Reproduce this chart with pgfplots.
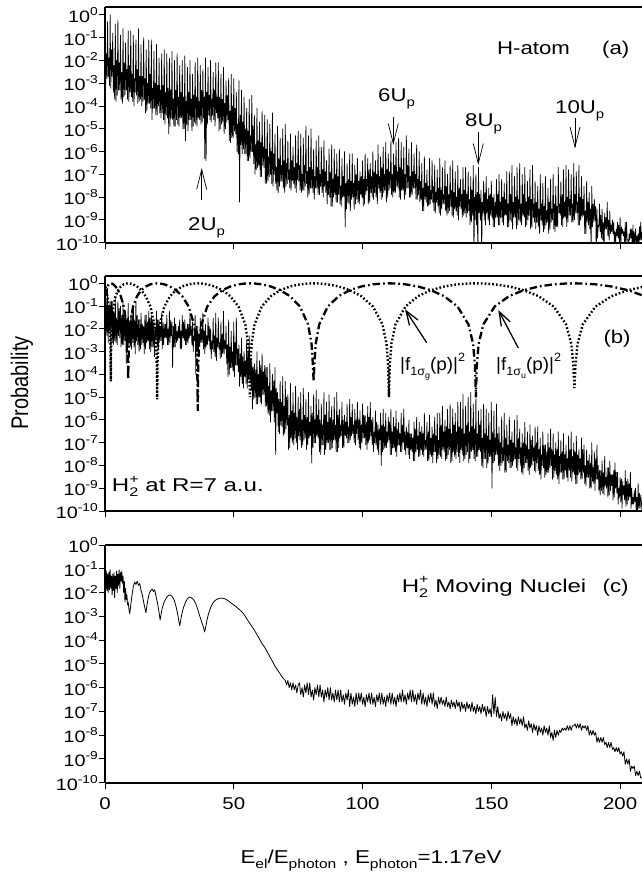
\documentclass[border=0pt]{standalone}
\usepackage{fontspec}
\setmainfont{Liberation Sans}
\usepackage{graphicx}
\usepackage{pgfplots}
\pgfplotsset{compat=1.18}
\usetikzlibrary{arrows.meta}

\newcommand\ft[1]{\fontsize{#1}{#1}\selectfont}
\newcommand\hs[1]{\scalebox{1.2}[1]{#1}}
\newcommand\hw[1]{\scalebox{1.3}[1]{#1}}
\newcommand\yl[1]{\hs{10\raisebox{0.42em}{\ft{11.5}#1}}}
\newcommand\mysub[1]{\raisebox{-0.28em}{\ft{12.5}#1}}
\newcommand\mysup[1]{\raisebox{0.45em}{\ft{12.5}#1}}
\newcommand\lsub[1]{\raisebox{-0.3em}{\ft{13}#1}}

\pgfplotsset{
  myPanel/.style={
    scale only axis, width=537pt,
    xmin=0, xmax=208.5, ymin=1e-10,
    axis x line=box, axis y line=left,
    every outer x axis line/.append style={-},
    every outer y axis line/.append style={-},
    axis line style={-, line width=1.6pt},
    xtick={0,50,100,150,200}, xtick pos=left, ytick pos=left,
    ytick={1e-10,1e-9,1e-8,1e-7,1e-6,1e-5,1e-4,1e-3,1e-2,1e-1,1},
    yticklabels={\yl{-10},\yl{-9},\yl{-8},\yl{-7},\yl{-6},\yl{-5},\yl{-4},\yl{-3},\yl{-2},\yl{-1},\yl{0}},
    yminorticks=false, xminorticks=false,
    tick align=outside, major tick length=6pt,
    major tick style={line width=1pt, black},
    yticklabel style={font=\ft{16.5}, inner sep=1pt},
    xticklabel style={font=\ft{17}, yshift=-5pt},
  },
  mySpec/.style={black, line width=0.7pt, line join=round},
  mySigG/.style={black, line width=2.4pt, line cap=butt, dash pattern=on 1.7pt off 2.1pt},
  mySigU/.style={black, line width=2.3pt, line cap=butt, dash pattern=on 7.5pt off 3pt on 1.7pt off 3pt},
}

\begin{document}
\begin{tikzpicture}
\useasboundingbox (0pt,0pt) rectangle (642pt,-873pt);

% ---------------- (a) H-atom
\begin{semilogyaxis}[myPanel, at={(105pt,-242.7pt)}, anchor=south west, height=236pt, ymax=2.3, xticklabels={}]
\addplot[mySpec] coordinates {
(0,1.3e-5)(0.1,1.3)(0.25,1e-3)(0.5,2e-2)(0.75,1.6e-3)
(1,5e-1)(1.25,2e-3)(1.5,1.3e-2)(1.75,8e-4)
(2,1)(2.25,6e-4)(2.5,3e-2)(2.75,2e-3)
(3,1.6e-1)(3.25,4e-4)(3.5,6e-3)(3.75,2e-4)
(4,4e-1)(4.25,1.6e-4)(4.5,1e-2)(4.75,3e-4)
(5,6e-1)(5.25,5e-4)(5.5,8e-3)(5.75,5e-4)
(6,1.3e-1)(6.25,2e-4)(6.5,3e-3)(6.75,1.3e-4)
(7,2.5e-1)(7.25,2.5e-4)(7.5,8e-3)(7.75,3e-4)
(8,6e-2)(8.25,5e-4)(8.5,4e-3)(8.75,2e-4)
(9,2e-1)(9.25,1.6e-4)(9.5,6e-3)(9.75,4e-4)
(10,2e-1)(10.25,2.5e-4)(10.5,2.5e-3)(10.75,1.6e-4)
(11,1.3e-1)(11.25,1e-4)(11.5,1.6e-3)(11.75,4e-4)
(12,8e-2)(12.25,3e-4)(12.5,4e-3)(12.75,1.3e-4)
(13,2.5e-1)(13.25,1.6e-4)(13.5,2e-3)(13.75,2e-4)
(14,5e-2)(14.25,1e-4)(14.5,2e-3)(14.75,1.6e-4)
(15,1e-1)(15.25,2e-4)(15.5,1.6e-3)(15.75,5e-5)
(16,3e-2)(16.25,6e-5)(16.5,1e-3)(16.75,1.3e-4)
(17,8e-2)(17.25,1.3e-4)(17.5,2.5e-3)(17.75,8e-5)
(18,8e-2)(18.25,2.5e-5)(18.5,6e-4)(18.75,8e-5)
(19,2.5e-2)(19.25,8e-5)(19.5,1e-3)(19.75,4e-5)
(20,5e-2)(20.25,4e-5)(20.5,8e-4)(20.75,1e-4)
(21,1.3e-2)(21.25,5e-5)(21.5,5e-4)(21.75,3e-5)
(22,2e-2)(22.25,5e-5)(22.5,8e-4)(22.75,2.5e-5)
(23,3e-2)(23.25,1.6e-5)(23.5,4e-4)(23.75,4e-5)
(24,2e-2)(24.25,3e-5)(24.5,6e-4)(24.75,6e-6)
(25,1.3e-2)(25.25,1.3e-5)(25.5,5e-4)(25.75,3e-5)
(26,2.5e-2)(26.25,2.5e-5)(26.5,2e-4)(26.75,1.3e-5)
(27,1e-2)(27.25,1.3e-5)(27.5,5e-4)(27.75,2.5e-5)
(28,2e-2)(28.25,1.6e-5)(28.5,2.5e-4)(28.75,1.3e-5)
(29,6e-3)(29.25,3e-5)(29.5,4e-4)(29.75,3e-5)
(30,1e-2)(30.25,1e-5)(30.5,2.5e-4)(30.75,1e-5)
(31,1.6e-2)(31.25,3e-6)(31.5,1.6e-4)(31.75,1.6e-5)
(32,5e-3)(32.25,8e-6)(32.5,4e-4)(32.75,2.5e-5)
(33,1e-2)(33.25,2.5e-5)(33.5,2e-4)(33.75,8e-6)
(34,2.5e-3)(34.25,1.3e-5)(34.5,3e-4)(34.75,2e-5)
(35,8e-3)(35.25,1.6e-5)(35.5,2.5e-4)(35.75,1.3e-5)
(36,1.3e-2)(36.25,3e-5)(36.5,1.6e-4)(36.75,2.5e-5)
(37,6e-3)(37.25,1.6e-5)(37.5,5e-4)(37.75,2e-5)
(38,4e-3)(38.25,3e-5)(38.5,2.5e-4)(38.75,5e-7)
(39,1.3e-2)(39.25,4e-7)(39.5,4e-4)(39.75,1.6e-5)
(40,5e-3)(40.25,4e-5)(40.5,3e-4)(40.75,2.5e-5)
(41,1e-2)(41.25,2e-5)(41.5,2e-4)(41.75,4e-5)
(42,3e-3)(42.25,2.5e-5)(42.5,5e-4)(42.75,1.3e-5)
(43,8e-3)(43.25,5e-5)(43.5,2.5e-4)(43.75,3e-5)
(44,8e-3)(44.25,8e-6)(44.5,2.5e-4)(44.75,1e-5)
(45,2.5e-3)(45.25,1.6e-5)(45.5,2e-4)(45.75,2e-5)
(46,5e-3)(46.25,6e-6)(46.5,1.3e-4)(46.75,1e-5)
(47,1.3e-3)(47.25,2e-5)(47.5,3e-4)(47.75,2.5e-5)
(48,1.6e-3)(48.25,3e-6)(48.5,6e-5)(48.75,2.5e-6)
(49,2.5e-3)(49.25,4e-6)(49.5,1e-4)(49.75,4e-6)
(50,1.6e-3)(50.25,8e-6)(50.5,8e-5)(50.75,6e-6)
(51,4e-4)(51.25,1e-6)(51.5,1.6e-5)(51.75,8e-7)
(52,1.3e-3)(52.25,6e-9)(52.5,4e-5)(52.75,2e-6)
(53,5e-4)(53.25,8e-7)(53.5,2e-5)(53.75,1.3e-6)
(54,2.5e-4)(54.25,8e-7)(54.5,1e-5)(54.75,8e-7)
(55,8e-5)(55.25,4e-7)(55.5,8e-6)(55.75,4e-7)
(56,2e-4)(56.25,5e-7)(56.5,5e-6)(56.75,1e-6)
(57,3e-4)(57.25,1e-6)(57.5,1.3e-5)(57.75,3e-7)
(58,4e-5)(58.25,1e-7)(58.5,2e-6)(58.75,1.6e-7)
(59,8e-5)(59.25,2e-7)(59.5,3e-6)(59.75,2.5e-7)
(60,2e-5)(60.25,8e-8)(60.5,2.5e-6)(60.75,8e-8)
(61,6e-5)(61.25,2.5e-7)(61.5,1.6e-6)(61.75,2e-7)
(62,4e-5)(62.25,4e-8)(62.5,1.3e-6)(62.75,4e-8)
(63,2.5e-5)(63.25,5e-8)(63.5,6e-7)(63.75,8e-8)
(64,1.6e-5)(64.25,1e-7)(64.5,1e-6)(64.75,4e-8)
(65,5e-5)(65.25,3e-8)(65.5,8e-7)(65.75,1e-7)
(66,6e-6)(66.25,4e-8)(66.5,2e-7)(66.75,2e-8)
(67,1.3e-5)(67.25,1.6e-8)(67.5,5e-7)(67.75,3e-8)
(68,4e-6)(68.25,5e-8)(68.5,2.5e-7)(68.75,5e-8)
(69,1e-5)(69.25,2.5e-8)(69.5,4e-7)(69.75,1.6e-8)
(70,1.6e-5)(70.25,3e-8)(70.5,3e-7)(70.75,4e-8)
(71,3e-6)(71.25,6e-8)(71.5,1.6e-7)(71.75,2.5e-8)
(72,6e-6)(72.25,2e-8)(72.5,4e-7)(72.75,5e-8)
(73,1.6e-6)(73.25,4e-8)(73.5,2e-7)(73.75,2.5e-8)
(74,5e-6)(74.25,1.6e-8)(74.5,3e-7)(74.75,6e-8)
(75,8e-6)(75.25,5e-8)(75.5,2.5e-7)(75.75,2e-8)
(76,6e-6)(76.25,1.6e-8)(76.5,1e-7)(76.75,2e-8)
(77,4e-6)(77.25,2e-8)(77.5,2.5e-7)(77.75,3e-8)
(78,1.3e-5)(78.25,4e-8)(78.5,1.3e-7)(78.75,1e-8)
(79,5e-6)(79.25,1.3e-8)(79.5,2e-7)(79.75,2.5e-8)
(80,1e-5)(80.25,2.5e-8)(80.5,1.6e-7)(80.75,1.6e-8)
(81,1.3e-6)(81.25,8e-9)(81.5,8e-8)(81.75,2.5e-8)
(82,3e-6)(82.25,2.5e-8)(82.5,2e-7)(82.75,1.3e-8)
(83,5e-6)(83.25,1.3e-8)(83.5,1e-7)(83.75,3e-8)
(84,1.6e-6)(84.25,1.6e-8)(84.5,1.6e-7)(84.75,1e-8)
(85,3e-6)(85.25,3e-8)(85.5,1.3e-7)(85.75,1.6e-8)
(86,4e-7)(86.25,5e-9)(86.5,5e-8)(86.75,1.3e-8)
(87,1.3e-6)(87.25,1e-8)(87.5,1.3e-7)(87.75,4e-9)
(88,2e-6)(88.25,4e-9)(88.5,6e-8)(88.75,1e-8)
(89,1.3e-6)(89.25,1.3e-8)(89.5,1e-7)(89.75,6e-9)
(90,8e-7)(90.25,6e-9)(90.5,8e-8)(90.75,1.3e-8)
(91,1.3e-6)(91.25,5e-9)(91.5,3e-8)(91.75,4e-9)
(92,5e-7)(92.25,1e-8)(92.5,8e-8)(92.75,1e-8)
(93,1e-6)(93.25,5e-10)(93.5,4e-8)(93.75,3e-9)
(94,3e-7)(94.25,6e-9)(94.5,6e-8)(94.75,5e-9)
(95,8e-7)(95.25,2.5e-9)(95.5,5e-8)(95.75,8e-9)
(96,8e-7)(96.25,1e-8)(96.5,4e-8)(96.75,3e-9)
(97,2.5e-7)(97.25,5e-9)(97.5,1e-7)(97.75,8e-9)
(98,5e-7)(98.25,6e-9)(98.5,5e-8)(98.75,5e-9)
(99,1.3e-7)(99.25,1.3e-8)(99.5,8e-8)(99.75,1e-8)
(100,4e-7)(100.25,4e-9)(100.5,6e-8)(100.75,5e-9)
(101,8e-7)(101.25,1.3e-8)(101.5,6e-8)(101.75,2e-8)
(102,5e-7)(102.25,5e-9)(102.5,1.6e-7)(102.75,6e-9)
(103,3e-7)(103.25,1.6e-8)(103.5,8e-8)(103.75,1e-8)
(104,1e-6)(104.25,8e-9)(104.5,1.3e-7)(104.75,1.6e-8)
(105,4e-7)(105.25,1e-8)(105.5,1e-7)(105.75,5e-9)
(106,2e-6)(106.25,2.5e-8)(106.5,8e-8)(106.75,1.6e-8)
(107,6e-7)(107.25,8e-9)(107.5,2e-7)(107.75,1e-8)
(108,1.6e-6)(108.25,1.6e-8)(108.5,1e-7)(108.75,2e-8)
(109,2.5e-6)(109.25,6e-9)(109.5,1.6e-7)(109.75,1e-8)
(110,8e-7)(110.25,2e-8)(110.5,1.3e-7)(110.75,2.5e-8)
(111,3e-6)(111.25,1.3e-8)(111.5,1e-7)(111.75,1e-8)
(112,8e-7)(112.25,1.6e-8)(112.5,2.5e-7)(112.75,1.6e-8)
(113,2.5e-6)(113.25,3e-8)(113.5,1.3e-7)(113.75,2.5e-8)
(114,4e-6)(114.25,1e-8)(114.5,2e-7)(114.75,8e-9)
(115,2.5e-6)(115.25,2e-8)(115.5,1.6e-7)(115.75,2e-8)
(116,1.6e-6)(116.25,8e-9)(116.5,1e-7)(116.75,1.3e-8)
(117,5e-6)(117.25,2.5e-8)(117.5,2.5e-7)(117.75,2.5e-8)
(118,1.3e-6)(118.25,1e-8)(118.5,8e-8)(118.75,1e-8)
(119,2.5e-6)(119.25,1.3e-8)(119.5,1.3e-7)(119.75,2.5e-8)
(120,8e-7)(120.25,2.5e-8)(120.5,1e-7)(120.75,8e-9)
(121,2e-6)(121.25,8e-9)(121.5,6e-8)(121.75,1.3e-8)
(122,1e-6)(122.25,6e-9)(122.5,5e-8)(122.75,8e-9)
(123,3e-7)(123.25,2.5e-9)(123.5,2.5e-8)(123.75,2.5e-9)
(124,6e-7)(124.25,8e-9)(124.5,4e-8)(124.75,6e-9)
(125,1.6e-7)(125.25,4e-9)(125.5,3e-8)(125.75,4e-9)
(126,5e-7)(126.25,5e-9)(126.5,2e-8)(126.75,8e-9)
(127,4e-7)(127.25,6e-9)(127.5,3e-8)(127.75,2.5e-9)
(128,2.5e-7)(128.25,2e-9)(128.5,1.6e-8)(128.75,6e-9)
(129,1.6e-7)(129.25,4e-9)(129.5,2.5e-8)(129.75,2e-9)
(130,5e-7)(130.25,1.6e-9)(130.5,2e-8)(130.75,3e-9)
(131,2e-7)(131.25,5e-9)(131.5,1.3e-8)(131.75,5e-9)
(132,4e-7)(132.25,2.5e-9)(132.5,3e-8)(132.75,1.6e-9)
(133,1e-7)(133.25,2e-9)(133.5,1.3e-8)(133.75,2.5e-9)
(134,2.5e-7)(134.25,4e-9)(134.5,2e-8)(134.75,1.6e-9)
(135,4e-7)(135.25,1.3e-9)(135.5,1.6e-8)(135.75,3e-9)
(136,1.3e-7)(136.25,2.5e-9)(136.5,1e-8)(136.75,1.6e-9)
(137,2.5e-7)(137.25,1e-9)(137.5,2.5e-8)(137.75,4e-9)
(138,6e-8)(138.25,3e-9)(138.5,1.3e-8)(138.75,1.3e-9)
(139,2e-7)(139.25,1.6e-9)(139.5,2e-8)(139.75,2e-9)
(140,2e-7)(140.25,1.3e-9)(140.5,1.3e-8)(140.75,2e-9)
(141,1.3e-7)(141.25,2.5e-9)(141.5,8e-9)(141.75,6e-10)
(142,8e-8)(142.25,8e-10)(142.5,2e-8)(142.75,1.6e-9)
(143,2.5e-7)(143.25,3e-11)(143.5,1e-8)(143.75,1e-9)
(144,1e-7)(144.25,6e-10)(144.5,1.6e-8)(144.75,3e-11)
(145,2e-7)(145.25,2e-9)(145.5,1.3e-8)(145.75,1e-9)
(146,2e-8)(146.25,3e-11)(146.5,6e-9)(146.75,2e-9)
(147,5e-8)(147.25,1e-9)(147.5,1.6e-8)(147.75,6e-10)
(148,8e-8)(148.25,2e-9)(148.5,8e-9)(148.75,1e-9)
(149,2.5e-8)(149.25,6e-10)(149.5,1.3e-8)(149.75,1.6e-9)
(150,5e-8)(150.25,1.3e-9)(150.5,1e-8)(150.75,5e-10)
(151,1.3e-8)(151.25,5e-10)(151.5,6e-9)(151.75,1.3e-9)
(152,6e-8)(152.25,1.3e-9)(152.5,1.3e-8)(152.75,6e-10)
(153,1e-7)(153.25,6e-10)(153.5,6e-9)(153.75,1.3e-9)
(154,6e-8)(154.25,8e-10)(154.5,1e-8)(154.75,6e-10)
(155,4e-8)(155.25,1.6e-9)(155.5,8e-9)(155.75,1.6e-9)
(156,1.3e-7)(156.25,5e-10)(156.5,5e-9)(156.75,5e-10)
(157,1.3e-7)(157.25,1e-9)(157.5,1.3e-8)(157.75,8e-10)
(158,2.5e-7)(158.25,4e-10)(158.5,6e-9)(158.75,1.3e-9)
(159,8e-8)(159.25,1.3e-9)(159.5,1e-8)(159.75,4e-10)
(160,2e-7)(160.25,6e-10)(160.5,8e-9)(160.75,1e-9)
(161,3e-7)(161.25,8e-10)(161.5,5e-9)(161.75,6e-10)
(162,1e-7)(162.25,1.6e-9)(162.5,1.3e-8)(162.75,1.3e-9)
(163,2e-7)(163.25,5e-10)(163.5,6e-9)(163.75,6e-10)
(164,5e-8)(164.25,1e-9)(164.5,1e-8)(164.75,1.6e-9)
(165,1.6e-7)(165.25,4e-10)(165.5,8e-9)(165.75,5e-10)
(166,2.5e-7)(166.25,1.3e-9)(166.5,5e-9)(166.75,8e-10)
(167,5e-8)(167.25,4e-10)(167.5,6e-9)(167.75,8e-10)
(168,3e-8)(168.25,5e-10)(168.5,3e-9)(168.75,2.5e-10)
(169,1e-7)(169.25,1e-9)(169.5,5e-9)(169.75,6e-10)
(170,4e-8)(170.25,3e-10)(170.5,4e-9)(170.75,4e-10)
(171,8e-8)(171.25,6e-10)(171.5,2.5e-9)(171.75,8e-10)
(172,2.5e-8)(172.25,2.5e-10)(172.5,6e-9)(172.75,4e-10)
(173,6e-8)(173.25,8e-10)(173.5,3e-9)(173.75,1e-9)
(174,1e-7)(174.25,4e-10)(174.5,5e-9)(174.75,3e-10)
(175,3e-8)(175.25,5e-10)(175.5,4e-9)(175.75,5e-10)
(176,2e-7)(176.25,2e-9)(176.5,5e-9)(176.75,1.6e-9)
(177,5e-8)(177.25,6e-10)(177.5,1.3e-8)(177.75,5e-10)
(178,1.6e-7)(178.25,1.3e-9)(178.5,6e-9)(178.75,1.3e-9)
(179,2.5e-7)(179.25,5e-10)(179.5,1e-8)(179.75,8e-10)
(180,1.6e-7)(180.25,1.6e-9)(180.5,8e-9)(180.75,1.6e-9)
(181,1e-7)(181.25,8e-10)(181.5,5e-9)(181.75,8e-10)
(182,3e-7)(182.25,1e-9)(182.5,1.3e-8)(182.75,2e-9)
(183,1.3e-7)(183.25,2e-9)(183.5,6e-9)(183.75,6e-10)
(184,2.5e-7)(184.25,6e-10)(184.5,1e-8)(184.75,1e-9)
(185,8e-8)(185.25,1.3e-9)(185.5,8e-9)(185.75,1.6e-9)
(186,3e-8)(186.25,2.5e-10)(186.5,2.5e-9)(186.75,2.5e-10)
(187,5e-8)(187.25,8e-10)(187.5,6e-9)(187.75,6e-10)
(188,1.6e-8)(188.25,4e-10)(188.5,3e-9)(188.75,3e-11)
(189,3e-8)(189.25,5e-10)(189.5,5e-9)(189.75,8e-10)
(190,8e-9)(190.25,1e-9)(190.5,4e-9)(190.75,3e-11)
(191,3e-9)(191.25,1.6e-10)(191.5,6e-10)(191.75,5e-10)
(192,5e-9)(192.25,3e-10)(192.5,1.6e-9)(192.75,1.6e-10)
(193,3e-9)(193.25,1.3e-10)(193.5,8e-10)(193.75,3e-11)
(194,2e-9)(194.25,4e-10)(194.5,1.3e-9)(194.75,4e-10)
(195,6e-9)(195.25,2e-10)(195.5,1e-9)(195.75,1.3e-10)
(196,2.5e-9)(196.25,2.5e-10)(196.5,6e-10)(196.75,3e-10)
(197,1e-9)(197.25,2.5e-10)(197.5,8e-10)(197.75,1e-10)
(198,3e-10)(198.25,8e-11)(198.5,4e-10)(198.75,2e-10)
(199,8e-10)(199.25,1.6e-10)(199.5,6e-10)(199.75,1e-10)
(200,1.3e-9)(200.25,6e-11)(200.5,5e-10)(200.75,2.5e-10)
(201,4e-10)(201.25,2e-10)(201.5,3e-10)(201.75,8e-11)
(202,8e-10)(202.25,1e-10)(202.5,8e-10)(202.75,1.3e-10)
(203,1.3e-10)(203.25,8e-11)(203.5,2.5e-10)(203.75,1.3e-10)
(204,4e-10)(204.25,1.6e-10)(204.5,4e-10)(204.75,4e-11)
(205,6e-10)(205.25,5e-11)(205.5,3e-10)(205.75,1e-10)
(206,4e-10)(206.25,1e-10)(206.5,2e-10)(206.75,6e-11)
(207,2.5e-10)(207.25,4e-11)(207.5,5e-10)(207.75,1.3e-10)
(208,8e-10)(208.25,1.3e-10)(208.5,3e-10)
};
\end{semilogyaxis}

% ---------------- (b) H2+ at R=7
\begin{semilogyaxis}[myPanel, at={(105pt,-511pt)}, anchor=south west, height=235pt, ymax=2.1, xticklabels={}]
\addplot[mySpec] coordinates {
(0,2e-2)(0.1,1)(0.25,6e-3)(0.5,2e-1)(0.75,5e-3)
(1,6e-1)(1.25,2.5e-3)(1.5,1e-1)(1.75,8e-3)
(2,1.6e-1)(2.25,8e-3)(2.5,1.6e-1)(2.75,2.5e-3)
(3,1.6e-1)(3.25,2e-3)(3.5,5e-2)(3.75,3e-3)
(4,2.5e-1)(4.25,2.5e-3)(4.5,3e-2)(4.75,2e-3)
(5,1.6e-1)(5.25,5e-3)(5.5,8e-2)(5.75,4e-3)
(6,1e-1)(6.25,1.6e-3)(6.5,4e-2)(6.75,2e-3)
(7,1.6e-1)(7.25,2e-3)(7.5,4e-2)(7.75,3e-3)
(8,6e-2)(8.25,3e-4)(8.5,3e-2)(8.75,1e-3)
(9,1.3e-1)(9.25,2.5e-3)(9.5,2e-2)(9.75,1.6e-3)
(10,4e-2)(10.25,1.3e-3)(10.5,5e-2)(10.75,2.5e-3)
(11,1e-1)(11.25,1.6e-3)(11.5,2.5e-2)(11.75,8e-4)
(12,1.6e-1)(12.25,3e-3)(12.5,4e-2)(12.75,2e-3)
(13,2.5e-2)(13.25,1e-3)(13.5,2.5e-2)(13.75,1.3e-3)
(14,5e-2)(14.25,2e-3)(14.5,1.6e-2)(14.75,2.5e-3)
(15,1.3e-2)(15.25,8e-4)(15.5,4e-2)(15.75,1.3e-3)
(16,4e-2)(16.25,2.5e-3)(16.5,2e-2)(16.75,3e-3)
(17,6e-2)(17.25,1.3e-3)(17.5,3e-2)(17.75,1e-3)
(18,4e-2)(18.25,1.6e-3)(18.5,2.5e-2)(18.75,1.6e-3)
(19,2e-2)(19.25,6e-4)(19.5,1e-2)(19.75,4e-3)
(20,6e-2)(20.25,1.6e-3)(20.5,2.5e-2)(20.75,1.3e-3)
(21,2.5e-2)(21.25,3e-3)(21.5,1.3e-2)(21.75,3e-3)
(22,5e-2)(22.25,1.3e-3)(22.5,2e-2)(22.75,2e-3)
(23,1.6e-2)(23.25,4e-3)(23.5,1.6e-2)(23.75,4e-3)
(24,4e-2)(24.25,2e-3)(24.5,1e-2)(24.75,2e-3)
(25,6e-2)(25.25,2.5e-3)(25.5,2.5e-2)(25.75,5e-3)
(26,2e-2)(26.25,2e-4)(26.5,1.3e-2)(26.75,1.6e-3)
(27,3e-2)(27.25,1.6e-3)(27.5,1.6e-2)(27.75,2.5e-3)
(28,8e-3)(28.25,3e-3)(28.5,1.3e-2)(28.75,4e-3)
(29,2.5e-2)(29.25,1.3e-3)(29.5,8e-3)(29.75,1.3e-3)
(30,4e-2)(30.25,4e-3)(30.5,2e-2)(30.75,3e-3)
(31,2.5e-2)(31.25,2e-3)(31.5,1e-2)(31.75,2e-3)
(32,1.6e-2)(32.25,2.5e-3)(32.5,1.6e-2)(32.75,4e-3)
(33,5e-2)(33.25,5e-3)(33.5,1.3e-2)(33.75,2e-3)
(34,2e-2)(34.25,1e-3)(34.5,5e-3)(34.75,3e-3)
(35,4e-2)(35.25,1e-4)(35.5,1.3e-2)(35.75,1e-3)
(36,1.3e-2)(36.25,8e-4)(36.5,6e-3)(36.75,1.6e-3)
(37,3e-2)(37.25,2.5e-3)(37.5,1e-2)(37.75,2.5e-3)
(38,5e-2)(38.25,1.3e-3)(38.5,8e-3)(38.75,8e-4)
(39,1.6e-2)(39.25,1.6e-3)(39.5,5e-3)(39.75,2e-3)
(40,3e-2)(40.25,3e-3)(40.5,1.3e-2)(40.75,1.3e-3)
(41,1e-2)(41.25,5e-4)(41.5,3e-3)(41.75,1.3e-3)
(42,3e-2)(42.25,1e-3)(42.5,5e-3)(42.75,6e-4)
(43,5e-2)(43.25,4e-4)(43.5,4e-3)(43.75,1.6e-3)
(44,3e-2)(44.25,1.3e-3)(44.5,2.5e-3)(44.75,5e-4)
(45,2e-2)(45.25,6e-4)(45.5,6e-3)(45.75,8e-4)
(46,6e-2)(46.25,8e-4)(46.5,3e-3)(46.75,1.3e-3)
(47,1.3e-2)(47.25,3e-4)(47.5,2e-3)(47.75,8e-5)
(48,2.5e-2)(48.25,1e-4)(48.5,1.6e-3)(48.75,2e-4)
(49,8e-3)(49.25,2e-4)(49.5,1e-3)(49.75,1.3e-4)
(50,2e-2)(50.25,8e-5)(50.5,2.5e-3)(50.75,2.5e-4)
(51,3e-2)(51.25,2.5e-4)(51.5,1.3e-3)(51.75,1.3e-4)
(52,2e-3)(52.25,3e-5)(52.5,8e-4)(52.75,8e-5)
(53,4e-3)(53.25,4e-5)(53.5,6e-4)(53.75,2.5e-5)
(54,1e-3)(54.25,8e-5)(54.5,4e-4)(54.75,4e-5)
(55,3e-3)(55.25,2.5e-5)(55.5,1e-3)(55.75,6e-5)
(56,5e-3)(56.25,5e-5)(56.5,5e-4)(56.75,2e-5)
(57,5e-4)(57.25,3e-6)(57.5,2e-4)(57.75,8e-6)
(58,3e-4)(58.25,1e-5)(58.5,1.6e-4)(58.75,5e-6)
(59,1e-3)(59.25,5e-6)(59.5,1e-4)(59.75,1e-5)
(60,4e-4)(60.25,6e-6)(60.5,2.5e-4)(60.75,5e-6)
(61,8e-4)(61.25,1.3e-5)(61.5,1.3e-4)(61.75,1.3e-5)
(62,2.5e-4)(62.25,4e-6)(62.5,2e-4)(62.75,4e-6)
(63,2e-4)(63.25,2e-6)(63.5,3e-5)(63.75,1.6e-6)
(64,3e-4)(64.25,8e-7)(64.5,2e-5)(64.75,2.5e-6)
(65,1e-4)(65.25,2.5e-6)(65.5,5e-5)(65.75,8e-7)
(66,2e-4)(66.25,3e-8)(66.5,2.5e-5)(66.75,2e-6)
(67,1.6e-5)(67.25,3e-7)(67.5,8e-6)(67.75,2.5e-7)
(68,5e-5)(68.25,6e-7)(68.5,6e-6)(68.75,5e-7)
(69,8e-5)(69.25,2e-7)(69.5,4e-6)(69.75,2.5e-7)
(70,5e-5)(70.25,4e-7)(70.5,1e-5)(70.75,6e-7)
(71,1.3e-5)(71.25,5e-8)(71.5,1.6e-6)(71.75,6e-8)
(72,4e-5)(72.25,1.6e-7)(72.5,2.5e-6)(72.75,1e-7)
(73,1.6e-5)(73.25,8e-8)(73.5,2e-6)(73.75,1.6e-7)
(74,3e-5)(74.25,1e-7)(74.5,1.3e-6)(74.75,5e-8)
(75,1e-5)(75.25,2e-7)(75.5,3e-6)(75.75,1.3e-7)
(76,1.6e-5)(76.25,6e-8)(76.5,1e-6)(76.75,8e-8)
(77,2.5e-5)(77.25,1.3e-7)(77.5,1.6e-6)(77.75,1.6e-7)
(78,8e-6)(78.25,5e-8)(78.5,1.3e-6)(78.75,8e-8)
(79,1.6e-5)(79.25,1.6e-7)(79.5,8e-7)(79.75,2e-7)
(80,4e-6)(80.25,1.3e-8)(80.5,2e-6)(80.75,6e-8)
(81,1.3e-5)(81.25,1e-7)(81.5,1e-6)(81.75,1e-7)
(82,2e-5)(82.25,2e-7)(82.5,1.6e-6)(82.75,1.6e-7)
(83,8e-6)(83.25,4e-8)(83.5,1e-6)(83.75,3e-8)
(84,5e-6)(84.25,8e-8)(84.5,6e-7)(84.75,8e-8)
(85,1.6e-5)(85.25,3e-8)(85.5,1.6e-6)(85.75,5e-8)
(86,6e-6)(86.25,1e-7)(86.5,8e-7)(86.75,1e-7)
(87,1.3e-5)(87.25,5e-8)(87.5,1.3e-6)(87.75,5e-8)
(88,4e-6)(88.25,6e-8)(88.5,1e-6)(88.75,1.3e-7)
(89,1e-5)(89.25,1.3e-7)(89.5,6e-7)(89.75,4e-8)
(90,1.6e-5)(90.25,4e-8)(90.5,1.6e-6)(90.75,6e-8)
(91,3e-6)(91.25,1.6e-7)(91.5,6e-7)(91.75,2e-7)
(92,6e-6)(92.25,6e-8)(92.5,1e-6)(92.75,6e-8)
(93,1.6e-6)(93.25,2e-7)(93.5,8e-7)(93.75,1.6e-7)
(94,5e-6)(94.25,1e-7)(94.5,5e-7)(94.75,1e-7)
(95,8e-6)(95.25,1.3e-7)(95.5,1.3e-6)(95.75,2e-7)
(96,5e-6)(96.25,2.5e-7)(96.5,6e-7)(96.75,1e-7)
(97,3e-6)(97.25,8e-8)(97.5,1e-6)(97.75,2.5e-7)
(98,6e-6)(98.25,1.3e-7)(98.5,1e-6)(98.75,6e-8)
(99,2.5e-6)(99.25,5e-8)(99.5,6e-7)(99.75,1e-7)
(100,5e-6)(100.25,1.6e-7)(100.5,1.6e-6)(100.75,1.6e-7)
(101,1.6e-6)(101.25,8e-8)(101.5,8e-7)(101.75,5e-8)
(102,4e-6)(102.25,1e-7)(102.5,1.3e-6)(102.75,1.3e-7)
(103,6e-6)(103.25,2e-7)(103.5,1e-6)(103.75,8e-8)
(104,1.3e-6)(104.25,4e-8)(104.5,3e-7)(104.75,1e-7)
(105,2.5e-6)(105.25,8e-8)(105.5,8e-7)(105.75,5e-8)
(106,6e-7)(106.25,3e-8)(106.5,4e-7)(106.75,1.3e-7)
(107,2e-6)(107.25,1e-8)(107.5,6e-7)(107.75,4e-8)
(108,3e-6)(108.25,5e-8)(108.5,5e-7)(108.75,6e-8)
(109,2e-6)(109.25,6e-8)(109.5,3e-7)(109.75,1e-7)
(110,1.3e-6)(110.25,1.3e-7)(110.5,8e-7)(110.75,3e-8)
(111,3e-6)(111.25,3e-8)(111.5,3e-7)(111.75,6e-8)
(112,1.3e-6)(112.25,6e-8)(112.5,5e-7)(112.75,4e-8)
(113,2.5e-6)(113.25,2.5e-8)(113.5,4e-7)(113.75,8e-8)
(114,8e-7)(114.25,8e-8)(114.5,2.5e-7)(114.75,4e-8)
(115,2e-6)(115.25,4e-8)(115.5,6e-7)(115.75,1e-7)
(116,3e-6)(116.25,5e-8)(116.5,3e-7)(116.75,3e-8)
(117,5e-7)(117.25,6e-8)(117.5,3e-7)(117.75,3e-8)
(118,1e-6)(118.25,2e-8)(118.5,2.5e-7)(118.75,5e-8)
(119,2.5e-7)(119.25,4e-8)(119.5,1.6e-7)(119.75,1.6e-8)
(120,8e-7)(120.25,1.6e-8)(120.5,4e-7)(120.75,4e-8)
(121,1.3e-6)(121.25,5e-8)(121.5,2e-7)(121.75,2.5e-8)
(122,8e-7)(122.25,2.5e-8)(122.5,3e-7)(122.75,5e-8)
(123,5e-7)(123.25,3e-8)(123.5,2.5e-7)(123.75,2.5e-8)
(124,2e-6)(124.25,5e-8)(124.5,1.3e-7)(124.75,5e-8)
(125,8e-7)(125.25,1.6e-8)(125.5,3e-7)(125.75,1.6e-8)
(126,1.6e-6)(126.25,3e-8)(126.5,1.6e-7)(126.75,2.5e-8)
(127,5e-7)(127.25,1.3e-8)(127.5,2.5e-7)(127.75,4e-8)
(128,1.3e-6)(128.25,4e-8)(128.5,2e-7)(128.75,1.3e-8)
(129,2e-6)(129.25,2e-8)(129.5,1.3e-7)(129.75,3e-8)
(130,2e-6)(130.25,2.5e-8)(130.5,6e-7)(130.75,2e-8)
(131,4e-6)(131.25,5e-8)(131.5,3e-7)(131.75,4e-8)
(132,1e-6)(132.25,1.6e-8)(132.5,5e-7)(132.75,2e-8)
(133,3e-6)(133.25,3e-8)(133.5,4e-7)(133.75,5e-8)
(134,5e-6)(134.25,1.3e-8)(134.5,2.5e-7)(134.75,1.6e-8)
(135,3e-6)(135.25,4e-8)(135.5,6e-7)(135.75,2.5e-8)
(136,2e-6)(136.25,2e-8)(136.5,3e-7)(136.75,4e-8)
(137,6e-6)(137.25,2.5e-8)(137.5,5e-7)(137.75,1.3e-8)
(138,6e-6)(138.25,5e-8)(138.5,4e-7)(138.75,3e-8)
(139,1.3e-5)(139.25,1.6e-8)(139.5,2.5e-7)(139.75,2e-8)
(140,4e-6)(140.25,3e-8)(140.5,6e-7)(140.75,4e-8)
(141,1e-5)(141.25,1.3e-8)(141.5,3e-7)(141.75,2e-8)
(142,1.6e-5)(142.25,4e-8)(142.5,5e-7)(142.75,5e-8)
(143,5e-6)(143.25,2e-8)(143.5,4e-7)(143.75,1.6e-8)
(144,1e-5)(144.25,2.5e-8)(144.5,2.5e-7)(144.75,2.5e-8)
(145,2.5e-6)(145.25,5e-8)(145.5,6e-7)(145.75,4e-8)
(146,3e-6)(146.25,1e-8)(146.5,1.6e-7)(146.75,8e-9)
(147,5e-6)(147.25,2e-8)(147.5,2.5e-7)(147.75,2e-8)
(148,3e-6)(148.25,8e-9)(148.5,2e-7)(148.75,1.3e-8)
(149,2e-6)(149.25,2.5e-8)(149.5,1.3e-7)(149.75,2.5e-8)
(150,6e-6)(150.25,1e-9)(150.5,3e-7)(150.75,1.3e-8)
(151,2.5e-6)(151.25,1.6e-8)(151.5,1.6e-7)(151.75,3e-8)
(152,5e-6)(152.25,3e-8)(152.5,2.5e-7)(152.75,1e-8)
(153,5e-7)(153.25,6e-9)(153.5,1e-7)(153.75,1e-8)
(154,1.3e-6)(154.25,1.3e-8)(154.5,6e-8)(154.75,1.6e-8)
(155,2e-6)(155.25,5e-9)(155.5,1.6e-7)(155.75,5e-9)
(156,6e-7)(156.25,1.6e-8)(156.5,8e-8)(156.75,1.3e-8)
(157,1.3e-6)(157.25,8e-9)(157.5,1.3e-7)(157.75,8e-9)
(158,3e-7)(158.25,1e-8)(158.5,1e-7)(158.75,1.6e-8)
(159,1e-6)(159.25,2e-8)(159.5,6e-8)(159.75,8e-9)
(160,1.6e-6)(160.25,6e-9)(160.5,1.6e-7)(160.75,2e-8)
(161,4e-7)(161.25,1e-8)(161.5,6e-8)(161.75,5e-9)
(162,2.5e-7)(162.25,4e-9)(162.5,1e-7)(162.75,8e-9)
(163,8e-7)(163.25,1.3e-8)(163.5,8e-8)(163.75,1.3e-8)
(164,3e-7)(164.25,6e-9)(164.5,5e-8)(164.75,4e-9)
(165,6e-7)(165.25,8e-9)(165.5,1.3e-7)(165.75,1e-8)
(166,2e-7)(166.25,1.6e-8)(166.5,6e-8)(166.75,6e-9)
(167,5e-7)(167.25,5e-9)(167.5,1e-7)(167.75,1.3e-8)
(168,5e-7)(168.25,6e-9)(168.5,5e-8)(168.75,4e-9)
(169,1.6e-7)(169.25,2.5e-9)(169.5,3e-8)(169.75,1e-8)
(170,3e-7)(170.25,8e-9)(170.5,8e-8)(170.75,3e-9)
(171,8e-8)(171.25,4e-9)(171.5,4e-8)(171.75,5e-9)
(172,2.5e-7)(172.25,5e-9)(172.5,6e-8)(172.75,8e-9)
(173,4e-7)(173.25,1e-8)(173.5,5e-8)(173.75,2.5e-9)
(174,2.5e-7)(174.25,3e-9)(174.5,3e-8)(174.75,6e-9)
(175,1e-7)(175.25,4e-9)(175.5,5e-8)(175.75,2.5e-9)
(176,3e-7)(176.25,1.6e-9)(176.5,2.5e-8)(176.75,5e-9)
(177,1.3e-7)(177.25,5e-9)(177.5,4e-8)(177.75,2.5e-9)
(178,2.5e-7)(178.25,2.5e-9)(178.5,3e-8)(178.75,6e-9)
(179,8e-8)(179.25,3e-9)(179.5,2e-8)(179.75,2e-9)
(180,2e-7)(180.25,6e-9)(180.5,5e-8)(180.75,3e-9)
(181,3e-7)(181.25,2e-9)(181.5,2.5e-8)(181.75,5e-9)
(182,1e-7)(182.25,4e-9)(182.5,4e-8)(182.75,1.6e-9)
(183,2e-7)(183.25,1.6e-9)(183.5,3e-8)(183.75,4e-9)
(184,5e-8)(184.25,5e-9)(184.5,2e-8)(184.75,2.5e-9)
(185,1.6e-7)(185.25,2.5e-9)(185.5,5e-8)(185.75,5e-9)
(186,8e-8)(186.25,1.6e-9)(186.5,1e-8)(186.75,1.3e-9)
(187,5e-8)(187.25,3e-9)(187.5,1.6e-8)(187.75,3e-9)
(188,3e-8)(188.25,1e-9)(188.5,1.3e-8)(188.75,1e-9)
(189,1e-7)(189.25,2e-9)(189.5,8e-9)(189.75,1.6e-9)
(190,4e-8)(190.25,8e-10)(190.5,2e-8)(190.75,2.5e-9)
(191,8e-8)(191.25,2.5e-9)(191.5,1e-8)(191.75,8e-10)
(192,6e-9)(192.25,5e-10)(192.5,6e-9)(192.75,8e-10)
(193,1.6e-8)(193.25,6e-10)(193.5,5e-9)(193.75,5e-10)
(194,2.5e-8)(194.25,1.3e-9)(194.5,3e-9)(194.75,1e-9)
(195,8e-9)(195.25,4e-10)(195.5,8e-9)(195.75,5e-10)
(196,1.6e-8)(196.25,8e-10)(196.5,4e-9)(196.75,1.3e-9)
(197,4e-9)(197.25,3e-10)(197.5,6e-9)(197.75,4e-10)
(198,1.3e-8)(198.25,1e-9)(198.5,5e-9)(198.75,6e-10)
(199,5e-9)(199.25,2e-10)(199.5,1e-9)(199.75,4e-10)
(200,3e-9)(200.25,2.5e-10)(200.5,2.5e-9)(200.75,1.3e-10)
(201,2e-9)(201.25,5e-10)(201.5,1.3e-9)(201.75,3e-10)
(202,6e-9)(202.25,1.6e-10)(202.5,2e-9)(202.75,2e-10)
(203,2.5e-9)(203.25,3e-10)(203.5,1.6e-9)(203.75,4e-10)
(204,5e-9)(204.25,1.3e-10)(204.5,1e-9)(204.75,2e-10)
(205,4e-10)(205.25,2e-10)(205.5,8e-10)(205.75,2.5e-10)
(206,1e-9)(206.25,1e-10)(206.5,4e-10)(206.75,8e-11)
(207,1.6e-9)(207.25,1.3e-10)(207.5,6e-10)(207.75,1.3e-10)
(208,5e-10)(208.25,2.5e-10)(208.5,1e-10)
};
% |f_{1sigma_g}(p)|^2
\addplot[mySigG] coordinates {
(0.276,0.727)(0.5625,0.5)(0.951,0.273)(1.44,0.0955)(1.904,0.0157)(2.117,2.22e-3)(2.205,2.47e-4)(2.25,5e-5)
(2.295,2.47e-4)(2.387,2.22e-3)(2.624,0.0157)(3.24,0.0955)(4.10,0.273)(5.06,0.5)(6.13,0.727)(7.29,0.9045)(8.29,0.9843)(9,1)
(9.73,0.9843)(10.89,0.9045)(12.43,0.727)(14.06,0.5)(15.80,0.273)(17.64,0.0955)(19.18,0.0157)(19.85,2.22e-3)(20.11,2.47e-4)(20.25,8e-6)
(20.39,2.47e-4)(20.66,2.22e-3)(21.34,0.0157)(23.04,0.0955)(25.25,0.273)(27.56,0.5)(29.98,0.727)(32.49,0.9045)(34.57,0.9843)(36,1)
(37.45,0.9843)(39.69,0.9045)(42.58,0.727)(45.56,0.5)(48.65,0.273)(51.84,0.0955)(54.46,0.0157)(55.58,2.22e-3)(56.03,2.47e-4)(56.25,1e-5)
(56.48,2.47e-4)(56.93,2.22e-3)(58.06,0.0157)(60.84,0.0955)(64.40,0.273)(68.06,0.5)(71.83,0.727)(75.69,0.9045)(78.85,0.9843)(81,1)
(83.17,0.9843)(86.49,0.9045)(90.73,0.727)(95.06,0.5)(99.50,0.273)(104.04,0.0955)(107.74,0.0157)(109.31,2.22e-3)(109.94,2.47e-4)(110.25,1e-5)
(110.57,2.47e-4)(111.20,2.22e-3)(112.78,0.0157)(116.64,0.0955)(121.55,0.273)(126.56,0.5)(131.68,0.727)(136.89,0.9045)(141.13,0.9843)(144,1)
(146.89,0.9843)(151.29,0.9045)(156.88,0.727)(162.56,0.5)(168.35,0.273)(174.24,0.0955)(179.02,0.0157)(181.04,2.22e-3)(181.85,2.47e-4)(182.25,2.5e-5)
(182.66,2.47e-4)(183.47,2.22e-3)(185.50,0.0157)(190.44,0.0955)(196.70,0.273)(203.06,0.5)(209.53,0.727)
};
% |f_{1sigma_u}(p)|^2
\addplot[mySigU] coordinates {
(0.276,0.273)(0.5625,0.5)(0.951,0.727)(1.44,0.9045)(1.904,0.9843)(2.25,1)
(2.624,0.9843)(3.24,0.9045)(4.10,0.727)(5.06,0.5)(6.13,0.273)(7.29,0.0955)(8.29,0.0157)(8.73,2.22e-3)(8.91,2.47e-4)(9,6e-5)
(9.09,2.47e-4)(9.27,2.22e-3)(9.73,0.0157)(10.89,0.0955)(12.43,0.273)(14.06,0.5)(15.80,0.727)(17.64,0.9045)(19.18,0.9843)(20.25,1)
(21.34,0.9843)(23.04,0.9045)(25.25,0.727)(27.56,0.5)(29.98,0.273)(32.49,0.0955)(34.57,0.0157)(35.46,2.22e-3)(35.82,2.47e-4)(36,2.5e-6)
(36.18,2.47e-4)(36.54,2.22e-3)(37.45,0.0157)(39.69,0.0955)(42.58,0.273)(45.56,0.5)(48.65,0.727)(51.84,0.9045)(54.46,0.9843)(56.25,1)
(58.06,0.9843)(60.84,0.9045)(64.40,0.727)(68.06,0.5)(71.83,0.273)(75.69,0.0955)(78.85,0.0157)(80.19,2.22e-3)(80.73,2.47e-4)(81,5e-5)
(81.27,2.47e-4)(81.81,2.22e-3)(83.17,0.0157)(86.49,0.0955)(90.73,0.273)(95.06,0.5)(99.50,0.727)(104.04,0.9045)(107.74,0.9843)(110.25,1)
(112.78,0.9843)(116.64,0.9045)(121.55,0.727)(126.56,0.5)(131.68,0.273)(136.89,0.0955)(141.13,0.0157)(142.92,2.22e-3)(143.64,2.47e-4)(144,1e-5)
(144.36,2.47e-4)(145.08,2.22e-3)(146.89,0.0157)(151.29,0.0955)(156.88,0.273)(162.56,0.5)(168.35,0.727)(174.24,0.9045)(179.02,0.9843)(182.25,1)
(185.50,0.9843)(190.44,0.9045)(196.70,0.727)(203.06,0.5)(209.53,0.273)
};
\end{semilogyaxis}

% ---------------- (c) moving nuclei
\begin{semilogyaxis}[myPanel, at={(105pt,-782.7pt)}, anchor=south west, height=237.7pt, ymax=1,
  xticklabels={\hs{0},\hs{50},\hs{100},\hs{150},\hs{200}}]
\addplot[black, line width=0.8pt, line join=round] coordinates {
(0,1.1e-2)(0.1,1e-1)(0.3,1.5e-2)(0.5,8e-2)(0.75,1.2e-2)(1,6e-2)(1.25,1e-2)(1.5,7e-2)(1.75,1.3e-2)(2,9e-2)
(2.25,1.5e-2)(2.5,5e-2)(2.75,8e-3)(3,6e-2)(3.25,1.2e-2)(3.5,7e-2)(3.75,6e-3)(4,5e-2)(4.25,1.5e-2)(4.5,8e-2)
(4.75,1e-2)(5,6e-2)(5.25,2e-2)(5.5,9e-2)(5.75,1.5e-2)(6,7e-2)(6.25,3e-2)(6.5,8e-2)(6.75,2.5e-2)(7,5e-2)
(7.25,1e-2)(7.5,3e-2)(7.75,4e-3)(8,1.5e-2)(8.25,5e-3)(8.5,8e-3)(8.75,3e-3)(9,4e-3)(9.3,2e-3)(9.6,1.3e-3)
(10,3e-3)(10.5,8e-3)(11,1.8e-2)(11.5,2.8e-2)(12,2.2e-2)(12.5,3e-2)(13,2e-2)(13.5,2.4e-2)(14,1.2e-2)(14.5,8e-3)
(15,4e-3)(15.5,2.2e-3)(15.9,1.4e-3)(16.3,3e-3)(16.8,6e-3)(17.3,1e-2)(17.8,1.2e-2)(18.3,1.4e-2)(18.8,1.1e-2)(19.3,1.3e-2)
(19.8,7e-3)(20.3,4e-3)(20.8,2e-3)(21.1,1.2e-3)(21.4,7e-4)(21.7,1.1e-3)(22.2,2.2e-3)(23,4e-3)(23.8,6e-3)(24.6,7.5e-3)
(25.3,8e-3)(26,7e-3)(26.8,5e-3)(27.5,2.8e-3)(28.2,1.3e-3)(28.7,6e-4)(29,4e-4)(29.3,6e-4)(29.8,1.2e-3)(30.5,2.4e-3)
(31.3,4e-3)(32,5.5e-3)(32.8,6.5e-3)(33.6,6e-3)(34.4,5e-3)(35.2,3.5e-3)(36,2e-3)(36.8,1e-3)(37.5,6e-4)(38.2,3.5e-4)
(38.7,2.2e-4)(39.1,3.5e-4)(39.6,7e-4)(40.2,1.3e-3)(41,2.3e-3)(41.8,3.5e-3)(42.7,4.6e-3)(43.6,5.3e-3)(44.5,5.7e-3)(45.4,5.8e-3)
(46.3,5.6e-3)(47.2,5e-3)(48.1,4.3e-3)(49,3.6e-3)(50,3e-3)(51,2.5e-3)(52,2e-3)(53,1.6e-3)(54,1.2e-3)(55,8e-4)
(56,5.5e-4)(57,3.8e-4)(58,2.6e-4)(59,1.7e-4)(60,1.1e-4)(61,7e-5)(62,5e-5)(63,3.2e-5)(64,2e-5)(65,1.3e-5)
(66,8e-6)(67,5.5e-6)(68,3.8e-6)(69,2.6e-6)
(70,2e-6)(70.5,1.3e-6)(71,2e-6)(71.5,1e-6)(72,1.6e-6)(72.5,8e-7)(73,1.6e-6)(73.5,8e-7)(74,1.3e-6)(74.5,6e-7)(75,1.3e-6)
(75.5,1.6e-6)(76,5e-7)(76.5,1e-6)(77,4e-7)(77.5,1.3e-6)(78,6e-7)(78.5,1.6e-6)(79,5e-7)(79.5,1.6e-6)(80,4e-7)
(80.5,8e-7)(81,3e-7)(81.5,1e-6)(82,5e-7)(82.5,1.3e-6)(83,4e-7)(83.5,1.3e-6)(84,4e-7)(84.5,8e-7)(85,2.5e-7)
(85.5,8e-7)(86,4e-7)(86.5,1e-6)(87,3e-7)(87.5,1e-6)(88,3e-7)(88.5,6e-7)(89,2.5e-7)(89.5,8e-7)(90,3e-7)
(90.5,8e-7)(91,2.5e-7)(91.5,8e-7)(92,2.5e-7)(92.5,5e-7)(93,2e-7)(93.5,6e-7)(94,3e-7)(94.5,8e-7)(95,1.6e-7)
(95.5,6e-7)(96,2e-7)(96.5,4e-7)(97,1.6e-7)(97.5,6e-7)(98,2e-7)(98.5,6e-7)(99,2.5e-7)(99.5,6e-7)(100,2e-7)
(100.5,4e-7)(101,1.6e-7)(101.5,5e-7)(102,2.5e-7)(102.5,6e-7)(103,2e-7)(103.5,6e-7)(104,2e-7)(104.5,4e-7)(105,1.6e-7)
(105.5,5e-7)(106,2.5e-7)(106.5,6e-7)(107,2e-7)(107.5,6e-7)(108,2e-7)(108.5,4e-7)(109,1.6e-7)(109.5,5e-7)(110,2.5e-7)
(110.5,6e-7)(111,2e-7)(111.5,6e-7)(112,2e-7)(112.5,4e-7)(113,1.6e-7)(113.5,5e-7)(114,2.5e-7)(114.5,6e-7)(115,2.5e-7)
(115.5,8e-7)(116,2.5e-7)(116.5,5e-7)(117,2e-7)(117.5,6e-7)(118,3e-7)(118.5,8e-7)(119,2.5e-7)(119.5,8e-7)(120,2.5e-7)
(120.5,5e-7)(121,2e-7)(121.5,6e-7)(122,3e-7)(122.5,8e-7)(123,2e-7)(123.5,6e-7)(124,2e-7)(124.5,4e-7)(125,1.6e-7)
(125.5,5e-7)(126,2.5e-7)(126.5,6e-7)(127,2e-7)(127.5,6e-7)(128,1.6e-7)(128.5,3e-7)(129,1.3e-7)(129.5,4e-7)(130,2e-7)
(130.5,4e-7)(131,2e-7)(131.5,3e-7)(132,1.6e-7)(132.5,4e-7)(133,1.6e-7)(133.5,2.5e-7)(134,1.3e-7)(134.5,3e-7)(135,1.6e-7)
(135.5,2.5e-7)(136,1.3e-7)(136.5,3e-7)(137,1.6e-7)(137.5,2.5e-7)(138,1e-7)(138.5,2.5e-7)(139,1.3e-7)(139.5,2e-7)(140,1e-7)
(140.5,2.5e-7)(141,1.3e-7)(141.5,2e-7)(142,1e-7)(142.5,2.5e-7)(143,1e-7)(143.5,1.6e-7)(144,8e-8)(144.5,2e-7)(145,1e-7)
(145.5,1.6e-7)(146,8e-8)(146.5,2e-7)(147,1e-7)(147.5,1.6e-7)(148,6e-8)(148.5,1.6e-7)(149,8e-8)(149.5,1.3e-7)(150,6e-8)
(150.5,5e-7)(151,8e-8)(151.5,4e-7)(152,6e-8)(152.5,1.6e-7)(153,5e-8)(153.5,8e-8)(154,4e-8)(154.5,1e-7)(155,5e-8)
(155.5,8e-8)(156,4e-8)(156.5,1e-7)(157,5e-8)(157.5,8e-8)(158,2.5e-8)(158.5,6e-8)(159,3e-8)(159.5,5e-8)(160,2.5e-8)
(160.5,6e-8)(161,3e-8)(161.5,5e-8)(162,2.5e-8)(162.5,6e-8)(163,2e-8)(163.5,3e-8)(164,1.6e-8)(164.5,4e-8)(165,2e-8)
(165.5,3e-8)(166,1.3e-8)(166.5,3e-8)(167,1.6e-8)(167.5,2.5e-8)(168,1e-8)(168.5,2.5e-8)(169,1.3e-8)(169.5,2e-8)(170,1e-8)
(170.5,2.5e-8)(171,1.3e-8)(171.5,2e-8)(172,1e-8)(172.5,2.5e-8)(173,8e-9)(173.5,1.3e-8)(174,6e-9)(174.5,1.6e-8)(175,8e-9)
(175.5,1.6e-8)(176,1e-8)(176.5,1.6e-8)(177,1.3e-8)(177.5,2e-8)(178,1.6e-8)(178.5,2e-8)(179,1.6e-8)(179.5,2.5e-8)(180,1.6e-8)
(180.5,2.5e-8)(181,1.6e-8)(181.5,2.5e-8)(182,2.5e-8)(182.5,3e-8)(183,2e-8)(183.5,3e-8)(184,2e-8)(184.5,3e-8)(185,1.6e-8)
(185.5,2.5e-8)(186,2e-8)(186.5,2.5e-8)(187,1.6e-8)(187.5,2.5e-8)(188,1e-8)(188.5,1.6e-8)(189,1e-8)(189.5,1.6e-8)(190,1e-8)
(190.5,1.3e-8)(191,5e-9)(191.5,8e-9)(192,5e-9)(192.5,8e-9)(193,5e-9)(193.5,8e-9)(194,4e-9)(194.5,5e-9)(195,3e-9)
(195.5,5e-9)(196,3e-9)(196.5,5e-9)(197,2.5e-9)(197.5,3e-9)(198,2e-9)(198.5,3e-9)(199,2e-9)(199.5,3e-9)(200,1.6e-9)
(200.5,2e-9)(201,1.3e-9)(201.5,2e-9)(202,6e-10)(202.5,1e-9)(203,6e-10)(203.5,1e-9)(204,3e-10)(204.5,5e-10)(205,4e-10)
(205.5,5e-10)(206,2e-10)(206.5,3e-10)(207,2e-10)(207.5,3e-10)(208,1.6e-10)(208.5,1.6e-10)
};
\end{semilogyaxis}

% ---------------- labels and annotations
\node[rotate=90, inner sep=0pt] at (22pt,-383pt) {\scalebox{1}[1.2]{\ft{20}Probability}};
\node[anchor=base, inner sep=0pt] at (371pt,-863pt)
  {\ft{18.6}\hs{E\lsub{el}/E\lsub{photon} , E\lsub{photon}=1.17eV}};

\node[anchor=base west, inner sep=0pt] at (497pt,-54pt) {\ft{18.5}\hs{H-atom}};
\node[anchor=base west, inner sep=0pt] at (602pt,-54pt) {\ft{18.5}\hs{(a)}};
\node[anchor=base west, inner sep=0pt] at (188pt,-230pt) {\ft{18.5}\hs{2U\mysub{p}}};
\node[anchor=base west, inner sep=0pt] at (378pt,-101.7pt) {\ft{18.5}\hs{6U\mysub{p}}};
\node[anchor=base west, inner sep=0pt] at (465pt,-126.7pt) {\ft{18.5}\hs{8U\mysub{p}}};
\node[anchor=base west, inner sep=0pt] at (555pt,-113.3pt) {\ft{18.5}\hs{10U\mysub{p}}};
\begin{scope}[line width=0.7pt, -{Straight Barb[length=20pt,width=10pt]}]
  \draw (201.7pt,-200pt) -- (201.7pt,-168pt);
  \draw (393.3pt,-116.7pt) -- (393.3pt,-145pt);
  \draw (478.3pt,-131.7pt) -- (478.3pt,-165pt);
  \draw (575pt,-118.3pt) -- (575pt,-148.3pt);
\end{scope}

\node[anchor=base west, inner sep=0pt] at (111.7pt,-491.7pt) {\ft{18.5}\hw{H\rlap{\mysub{2}}\mysup{+} at R=7 a.u.}};
\node[anchor=base west, inner sep=0pt] at (603.3pt,-343pt) {\ft{18.5}\hs{(b)}};
\node[anchor=base west, inner sep=0pt] at (400pt,-370pt)
  {\ft{18}\scalebox{1.05}[1]{|f\raisebox{-0.3em}{\ft{12}1σ\raisebox{-0.25em}{\ft{8.5}g}}(p)|\raisebox{0.5em}{\ft{12}2}}};
\node[anchor=base west, inner sep=0pt] at (496pt,-370pt)
  {\ft{18}\scalebox{1.05}[1]{|f\raisebox{-0.3em}{\ft{12}1σ\raisebox{-0.25em}{\ft{8.5}u}}(p)|\raisebox{0.5em}{\ft{12}2}}};
\begin{scope}[line width=1.3pt, -{Straight Barb[length=14pt,width=10pt]}]
  \draw (426.7pt,-342.7pt) -- (405pt,-309.3pt);
  \draw (518.3pt,-348pt) -- (498.3pt,-310pt);
\end{scope}

\node[anchor=base west, inner sep=0pt] at (401.6pt,-592pt) {\ft{18.5}\hw{H\rlap{\mysub{2}}\mysup{+} Moving Nuclei}};
\node[anchor=base west, inner sep=0pt] at (602.5pt,-592pt) {\ft{18.5}\hs{(c)}};
\end{tikzpicture}
\end{document}
